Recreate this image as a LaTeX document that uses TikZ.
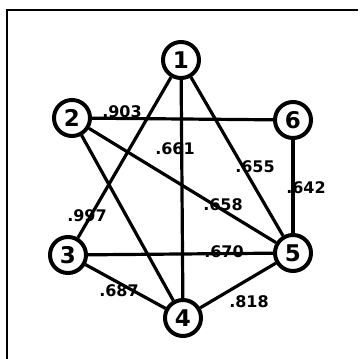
\documentclass[tikz,border=0pt]{standalone}
\usepackage{fontspec}
\setmainfont{DejaVu Sans}
\tikzset{
  vertex/.style={circle, draw=black, line width=4pt, minimum size=36pt, inner sep=0pt, fill=white, font=\fontsize{23}{23}\selectfont\bfseries},
  edge/.style={line width=3.2pt},
  weight/.style={inner sep=0pt, font=\fontsize{16}{16}\selectfont\bfseries}
}
\begin{document}
\begin{tikzpicture}[x=1pt, y=-1pt]
  \useasboundingbox (0,0) rectangle (360,359);

  % --- Marco ---
  \coordinate (fbot) at (7,359);
  \coordinate (fcorner) at (7,10);
  \coordinate (fright) at (358,10);
  \draw [line width=2.8pt] (fbot) -- (fcorner) -- (fright);

  % --- Vertices ---
  \node (n1) [vertex] at (181,60) {1};
  \node (n2) [vertex] at (72,118) {2};
  \node (n6) [vertex] at (293,120) {6};
  \node (n3) [vertex] at (68,255) {3};
  \node (n5) [vertex] at (293,253) {5};
  \node (n4) [vertex] at (183,318) {4};

  % --- Aristas ---
  \draw [edge] (n1) -- (n3);
  \draw [edge] (n1) -- (n4);
  \draw [edge] (n1) -- (n5);
  \draw [edge] (n2) -- (n6);
  \draw [edge] (n2) -- (n5);
  \draw [edge] (n2) -- (n4);
  \draw [edge] (n3) -- (n5);
  \draw [edge] (n3) -- (n4);
  \draw [edge] (n4) -- (n5);
  \draw [edge] (n6) -- (n5);

  % --- Pesos ---
  \node (w26) [weight] at (122,112) {.903};
  \node (w14) [weight] at (175,149) {.661};
  \node (w15) [weight] at (255,167) {.655};
  \node (w65) [weight] at (306,188) {.642};
  \node (w25) [weight] at (223,205) {.658};
  \node (w13) [weight] at (87,216) {.997};
  \node (w35) [weight] at (224,252) {.670};
  \node (w34) [weight] at (119,291) {.687};
  \node (w45) [weight] at (249,302) {.818};
\end{tikzpicture}
\end{document}
